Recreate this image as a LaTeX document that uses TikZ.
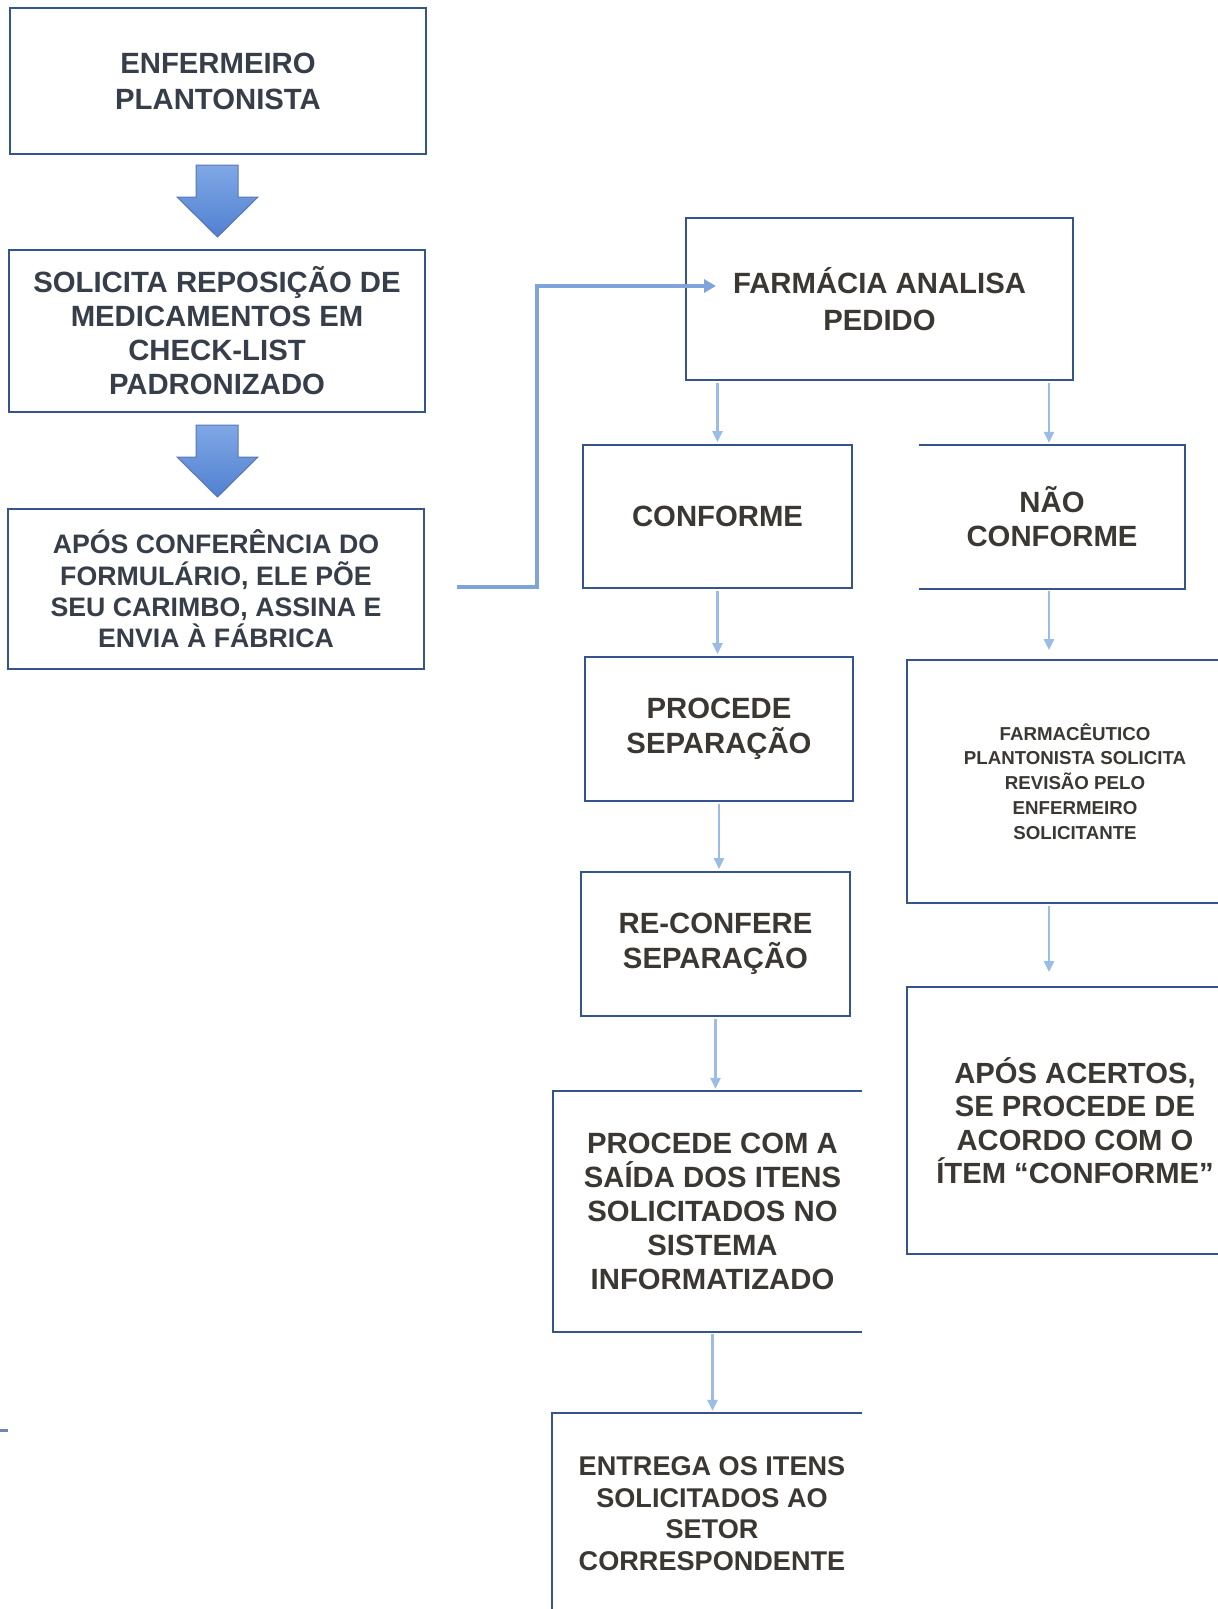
\documentclass[tikz,border=0pt]{standalone}
\usepackage{fontspec}
\setmainfont{Liberation Sans}
\usetikzlibrary{arrows.meta,calc}

\definecolor{boxblue}{HTML}{34558C}
\definecolor{linkblue}{HTML}{7FA4DB}
\definecolor{stepblue}{HTML}{9BBCE6}
\definecolor{txtleft}{HTML}{363E49}
\definecolor{txtmid}{HTML}{3B3732}
\definecolor{arrowtop}{HTML}{80A8E6}
\definecolor{arrowbot}{HTML}{5080D0}
\definecolor{arrowedge}{HTML}{5878B5}

\begin{document}
\begin{tikzpicture}[x=1pt,y=-1pt,
  frame/.style={inner sep=0pt, align=center, text=txtmid},
  ruled/.style={frame, draw=boxblue, line width=2pt},
  edge/.style={draw=boxblue, line width=2pt},
  flow/.style={draw=stepblue, line width=2.5pt, shorten <=2pt, shorten >=2pt,
    -{Triangle[length=11pt,width=10pt]}},
  link/.style={draw=linkblue, line width=4pt, -{Triangle[length=12pt,width=13pt]}},
  blockarrow/.style={draw=arrowedge, line width=1pt, top color=arrowtop, bottom color=arrowbot}
]
\path[use as bounding box, clip] (0,0) rectangle (1218,1609);
\fill[white] (0,0) rectangle (1218,1609);

% left column
\node[ruled, text=txtleft, minimum width=416, minimum height=146,
  font=\bfseries\fontsize{29.3}{36}\selectfont] (nurse) at (218,81)
  {ENFERMEIRO\\PLANTONISTA};
\node[ruled, text=txtleft, minimum width=416, minimum height=162,
  font=\bfseries\fontsize{29.3}{34}\selectfont] (request) at (217,331)
  {SOLICITA REPOSIÇÃO DE\\MEDICAMENTOS EM\\CHECK-LIST\\PADRONIZADO};
\node[ruled, text=txtleft, minimum width=416, minimum height=160,
  font=\bfseries\fontsize{26.7}{31.3}\selectfont] (stamp) at (216,589)
  {APÓS CONFERÊNCIA DO\\FORMULÁRIO, ELE PÕE\\SEU CARIMBO, ASSINA E\\ENVIA À FÁBRICA};

% wide block arrows between the left boxes
\path[blockarrow] (196,165) -- (238,165) -- (238,197) -- (258,197) -- (217.5,237)
  -- (177,197) -- (196,197) -- cycle;
\path[blockarrow] (196,425) -- (238,425) -- (238,457) -- (258,457) -- (217.5,497)
  -- (177,457) -- (196,457) -- cycle;

% middle column
\node[ruled, minimum width=387, minimum height=162,
  font=\bfseries\fontsize{29.3}{37}\selectfont] (pharm) at (879.5,299)
  {FARMÁCIA ANALISA\\PEDIDO};
\node[ruled, minimum width=269, minimum height=143,
  font=\bfseries\fontsize{29.3}{34}\selectfont] (ok) at (717.5,516.5) {CONFORME};
\node[frame, minimum width=262, minimum height=144,
  font=\bfseries\fontsize{29.3}{34}\selectfont] (notok) at (1052,517) {NÃO\\CONFORME};
\draw[edge] ($(notok.north west)+(-2,0)$) -- ($(notok.north east)+(2,0)$)
  -- ($(notok.south east)+(2,0)$) -- ($(notok.south west)+(-2,0)$);
\node[ruled, minimum width=268, minimum height=144,
  font=\bfseries\fontsize{29.3}{35}\selectfont] (separate) at (719,729) {PROCEDE\\SEPARAÇÃO};
\node[ruled, minimum width=269, minimum height=144,
  font=\bfseries\fontsize{29.3}{35}\selectfont] (recheck) at (715.5,944) {RE-CONFERE\\SEPARAÇÃO};
\node[frame, minimum width=319, minimum height=241,
  font=\bfseries\fontsize{29.3}{34}\selectfont] (output) at (712.5,1211.5)
  {PROCEDE COM A\\SAÍDA DOS ITENS\\SOLICITADOS NO\\SISTEMA\\INFORMATIZADO};
\draw[edge] ($(output.north east)+(-10,0)$) -- (output.north west) -- (output.south west)
  -- ($(output.south east)+(-10,0)$);
\node[frame, minimum width=320, minimum height=201,
  font=\bfseries\fontsize{27.1}{31.5}\selectfont] (deliver) at (712,1513.5)
  {ENTREGA OS ITENS\\SOLICITADOS AO\\SETOR\\CORRESPONDENTE};
\draw[edge] ($(deliver.north east)+(-10,0)$) -- (deliver.north west) -- (deliver.south west);

% right column
\node[ruled, minimum width=336, minimum height=243,
  font=\bfseries\fontsize{18.7}{24.8}\selectfont] (review) at (1075,781.5)
  {FARMACÊUTICO\\PLANTONISTA SOLICITA\\REVISÃO PELO\\ENFERMEIRO\\SOLICITANTE};
\node[ruled, minimum width=336, minimum height=267,
  font=\bfseries\fontsize{29.2}{33.5}\selectfont] (fixed) at (1075,1120.5)
  {APÓS ACERTOS,\\SE PROCEDE DE\\ACORDO COM O\\ÍTEM “CONFORME”};

% connectors
\coordinate (linkstart) at (457,587);
\draw[link] (linkstart) -- ++(80,0) |- ($(pharm.west)+(31,-13)$);

\coordinate (rcol) at (1049,0);
\draw[flow] (ok.north |- pharm.south) -- (ok.north);
\draw[flow] (rcol |- pharm.south) -- (rcol |- notok.north);
\draw[flow] (ok.south) -- (ok.south |- separate.north);
\draw[flow] (separate.south) -- (separate.south |- recheck.north);
\draw[flow] (recheck.south) -- (recheck.south |- output.north);
\draw[flow] (output.south) -- (output.south |- deliver.north);
\draw[flow, shorten >=9pt] (rcol |- notok.south) -- (rcol |- review.north);
\draw[flow, shorten >=14pt] (rcol |- review.south) -- (rcol |- fixed.north);

% short mark at the left margin
\draw[boxblue!70, line width=3pt] (0,1430) -- (8,1430);
\end{tikzpicture}
\end{document}
